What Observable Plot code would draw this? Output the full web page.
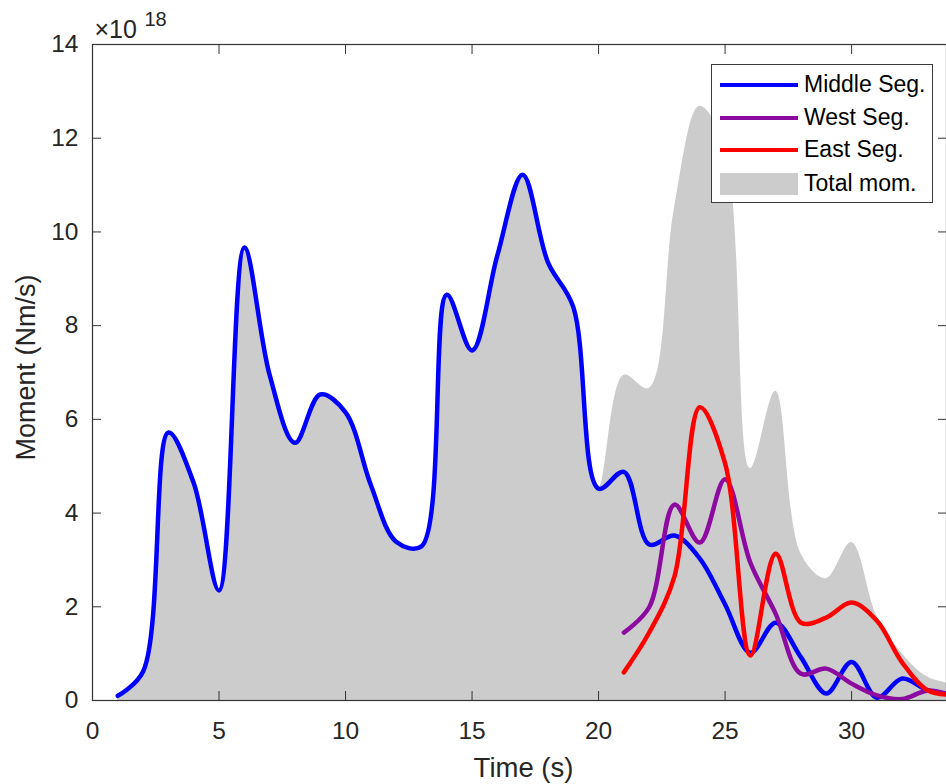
<!DOCTYPE html>
<html><head><meta charset="utf-8">
<script src="https://cdn.jsdelivr.net/npm/d3@7"></script>
<script src="https://cdn.jsdelivr.net/npm/@observablehq/plot@0.6"></script>
<style>
body{margin:0;background:#fff;font-family:"Liberation Sans",Arial,sans-serif;}
#wrap{position:relative;width:946px;height:784px;overflow:hidden;background:#fff}
#legend{position:absolute;left:711px;top:64px;width:222px;height:139px;border:1px solid #3a3a3a;background:#fff;box-sizing:border-box;color:#000;font-size:23px}
.sw{position:absolute;left:8px;width:78px}
.lbl{position:absolute;left:92px;white-space:nowrap;line-height:1}
</style></head><body><div id="wrap"></div>
<script>
// ---- data ----
const time = [1,2,3,4,5,6,7,8,9,10,11,12,13,14,15,16,17,18,19,20,21,22,23,24,25,26,27,28,29,30,31,32,33,34];
const middleSeg = [0.10,0.62,5.72,4.64,2.35,9.67,6.95,5.50,6.53,6.15,4.60,3.39,3.29,8.66,7.47,9.50,11.22,9.35,8.40,4.52,4.88,3.33,3.52,3.03,2.05,1.02,1.66,0.92,0.15,0.82,0.06,0.47,0.22,0.12];
const totalMom = [0.10,0.62,5.72,4.64,2.35,9.67,6.95,5.50,6.53,6.15,4.60,3.39,3.29,8.66,7.47,9.50,11.22,9.35,8.40,4.52,6.94,6.66,10.50,12.68,11.80,4.95,6.60,3.13,2.60,3.37,1.80,1.00,0.50,0.35];
const segTime = [21,22,23,24,25,26,27,28,29,30,31,32,33,34];
const westSeg = [1.45,1.99,4.18,3.37,4.72,2.94,1.85,0.57,0.68,0.36,0.11,0.03,0.21,0.10];
const eastSeg = [0.60,1.45,2.65,6.26,5.06,0.96,3.13,1.66,1.77,2.09,1.70,0.81,0.22,0.12];
const xTicks = [0,5,10,15,20,25,30];
const yTicks = [0,2,4,6,8,10,12,14];
const seriesNames = ["Middle Seg.","West Seg.","East Seg.","Total mom."];
const seriesColors = ["#0000ff","#8c0aa0","#ff0000","#cccccc"];
const xLabel = "Time (s)";
const yLabel = "Moment (Nm/s)";
const expBase = "\u00d710";
const expPow = "18";

// ---- build tables ----
const totalData = time.map((t,i)=>({t, v: totalMom[i]}));
const midData = time.map((t,i)=>({t, v: middleSeg[i]}));
const westData = segTime.map((t,i)=>({t, v: westSeg[i]}));
const eastData = segTime.map((t,i)=>({t, v: eastSeg[i]}));

const tickColor = "#262626";
const font = "Liberation Sans, Arial, sans-serif";
const lw = 4.5;

const chart = Plot.plot({
  width: 946, height: 784,
  marginLeft: 92, marginRight: 0, marginTop: 44, marginBottom: 84,
  x: {domain: [0, 33.75]},
  y: {domain: [0, 14]},
  style: {fontFamily: font, fontSize: "24.5px", color: tickColor, background: "white"},
  marks: [
    Plot.areaY(totalData, {x: "t", y: "v", fill: seriesColors[3], curve: "catmull-rom", clip: true}),
    Plot.lineY(midData, {x: "t", y: "v", stroke: seriesColors[0], strokeWidth: lw, curve: "catmull-rom", clip: true}),
    Plot.lineY(westData, {x: "t", y: "v", stroke: seriesColors[1], strokeWidth: lw, curve: "catmull-rom", clip: true}),
    Plot.lineY(eastData, {x: "t", y: "v", stroke: seriesColors[2], strokeWidth: lw, curve: "catmull-rom", clip: true}),
    Plot.frame({stroke: "#333", strokeWidth: 1.2}),
    // inward ticks
    Plot.axisX(xTicks, {anchor: "bottom", tickSize: -9, tickFormat: () => "", label: null, stroke: "#333"}),
    Plot.axisX(xTicks, {anchor: "top", tickSize: -9, tickFormat: () => "", label: null, stroke: "#333"}),
    Plot.axisY(yTicks, {anchor: "left", tickSize: -9, tickFormat: () => "", label: null, stroke: "#333"}),
    Plot.axisY(yTicks, {anchor: "right", tickSize: -9, tickFormat: () => "", label: null, stroke: "#333"}),
    // tick labels
    Plot.axisX(xTicks, {anchor: "bottom", tickSize: 0, tickPadding: 21, label: null, fontSize: 24.5, fill: tickColor}),
    Plot.axisY(yTicks, {anchor: "left", tickSize: 0, tickPadding: 14, label: null, fontSize: 24.5, fill: tickColor}),
    // axis labels
    Plot.text([xLabel], {frameAnchor: "bottom", textAnchor: "middle", lineAnchor: "middle", dy: 68, dx: 4, fontSize: 27.5, fill: tickColor}),
    Plot.text([yLabel], {frameAnchor: "left", textAnchor: "middle", lineAnchor: "middle", rotate: -90, dx: -66, dy: -5, fontSize: 27, fill: tickColor}),
    // exponent
    Plot.text([expBase], {frameAnchor: "top-left", textAnchor: "start", lineAnchor: "bottom", dx: 2, dy: -7, fontSize: 25, fill: tickColor}),
    Plot.text([expPow], {frameAnchor: "top-left", textAnchor: "start", lineAnchor: "bottom", dx: 52, dy: -19, fontSize: 20, fill: tickColor})
  ]
});
const wrap = document.getElementById("wrap");
wrap.appendChild(chart);

// legend
const leg = document.createElement("div");
leg.id = "legend";
const rowsY = [20, 53, 85, 119];
seriesNames.forEach((name, i) => {
  const sw = document.createElement("div");
  sw.className = "sw";
  if (i < 3) {
    sw.style.top = (rowsY[i] - 2) + "px";
    sw.style.height = "4px";
  } else {
    sw.style.top = (rowsY[i] - 11) + "px";
    sw.style.height = "22px";
  }
  sw.style.background = seriesColors[i];
  leg.appendChild(sw);
  const lb = document.createElement("div");
  lb.className = "lbl";
  lb.textContent = name;
  lb.style.top = (rowsY[i] - 12) + "px";
  leg.appendChild(lb);
});
wrap.appendChild(leg);
</script></body></html>
